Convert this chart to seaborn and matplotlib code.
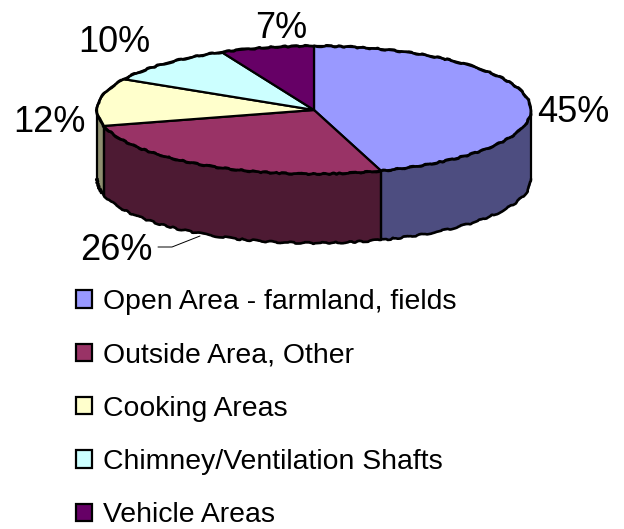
import matplotlib
matplotlib.use("Agg")
import matplotlib.pyplot as plt
import numpy as np
import seaborn as sns
from matplotlib.patches import Patch

# Data
categories = [
    "Open Area - farmland, fields",
    "Outside Area, Other",
    "Cooking Areas",
    "Chimney/Ventilation Shafts",
    "Vehicle Areas",
]
shares = [45, 26, 12, 10, 7]
top_colors = ["#9999FF", "#993366", "#FFFFCC", "#CCFFFF", "#660066"]
wall_colors = ["#4D4D80", "#4D1A33", "#8F8F70", "#668080", "#330033"]

W, H = 624, 529
CX, CY = 314, 110  # pie centre in pixels
RX, RY = 217, 64  # ellipse radii
DEPTH = 69 / RY  # wall height in y data units
LINE = 1.6
ROUGH = (0.8, 22, 6)  # the stair-stepped rim of the original

sns.set_theme(style="white")
plt.rcParams["font.family"] = ["Liberation Sans", "DejaVu Sans"]


def px(x, y):
    """Pixel position to figure fraction (y counted from the top)."""
    return x / W, 1 - y / H


fig = plt.figure(figsize=(W / 100, H / 100), dpi=100, facecolor="white")
ylo, yhi = -2.4, 1.0
ax = fig.add_axes([
    (CX - RX) / W,
    1 - (CY + RY - (ylo + 1) * RY) / H,
    2 * RX / W,
    (yhi - ylo) * RY / H,
])

palette = sns.color_palette(top_colors)
wedges, _ = ax.pie(
    shares,
    colors=palette,
    startangle=90,
    counterclock=False,
    radius=1,
    wedgeprops={"edgecolor": "black", "linewidth": LINE, "zorder": 3},
)
ax.set_aspect("auto")
ax.set_xlim(-1, 1)
ax.set_ylim(ylo, yhi)
ax.set_axis_off()

# rim of the top face
rim = np.radians(np.linspace(0, 360, 300))
rim_line, = ax.plot(np.sin(rim), np.cos(rim), color="black", lw=LINE + 0.3,
                    zorder=4, clip_on=False)
rim_line.set_sketch_params(*ROUGH)

# side wall: only the front half of the rim is visible
edges = np.cumsum([0] + shares) / sum(shares) * 360
for start, stop, color in zip(edges[:-1], edges[1:], wall_colors):
    lo, hi = max(start, 90), min(stop, 270)
    if lo >= hi:
        continue
    theta = np.radians(np.linspace(lo, hi, 80))
    x = np.sin(theta)
    y = np.cos(theta)
    ax.fill_between(x, y, y - DEPTH, color=color, lw=0, zorder=1)
    base, = ax.plot(x, y - DEPTH, color="black", lw=LINE + 0.3, zorder=2,
                    clip_on=False)
    base.set_sketch_params(*ROUGH)
    for t in (theta[0], theta[-1]):
        ax.plot([np.sin(t)] * 2, [np.cos(t), np.cos(t) - DEPTH],
                color="black", lw=LINE, zorder=2, clip_on=False)

# percent labels
label_pos = [(573, 113), (116, 251), (49, 123), (114, 43), (281, 28)]
for value, (x, y) in zip(shares, label_pos):
    fx, fy = px(x, y)
    fig.text(fx, fy, f"{value}%", fontsize=26, color="black",
             ha="center", va="center")

# leader line for the 26% label
xs, ys = zip(*[px(158, 247), px(172, 247), px(200, 236)])
fig.add_artist(plt.Line2D(xs, ys, color="black", lw=0.7))

handles = [
    Patch(facecolor=c, edgecolor="black", linewidth=LINE, label=name)
    for c, name in zip(palette, categories)
]
fig.legend(
    handles=handles,
    loc="upper left",
    bbox_to_anchor=px(76, 289),
    frameon=False,
    fontsize=20.4,
    labelcolor="black",
    handlelength=0.58,
    handleheight=0.58,
    handletextpad=0.38,
    labelspacing=0.965,
    borderpad=0,
    borderaxespad=0,
)

fig.savefig("out.png", dpi=100, facecolor="white")
